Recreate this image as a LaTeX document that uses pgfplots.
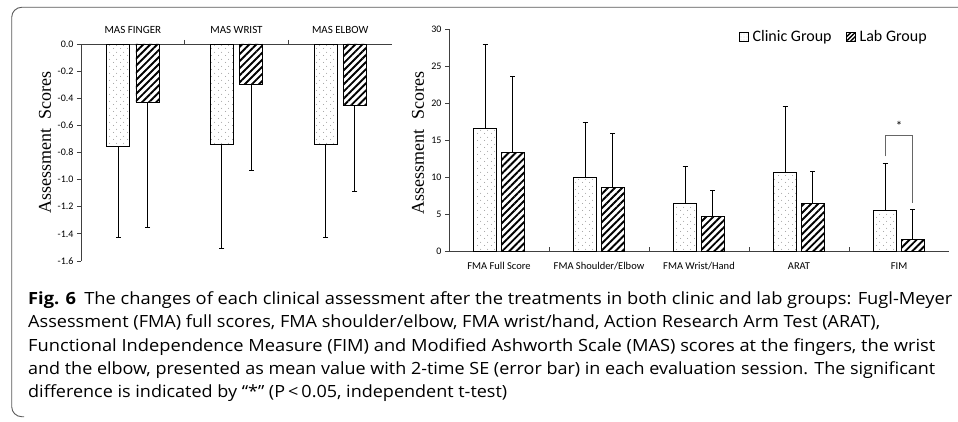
\documentclass[border=0pt]{standalone}
\usepackage{fontspec}
\setmainfont{Carlito}
\newfontfamily\timesfont{Liberation Serif}
\newfontfamily\capfont{Open Sans}
\usepackage{graphicx}
\usepackage{pgfplots}
\usepackage{pgfplotstable}
\pgfplotsset{compat=1.18}
\usetikzlibrary{patterns.meta}
\definecolor{axgray}{HTML}{404040}
\definecolor{dotgray}{HTML}{8a8a8a}

\pgfdeclarepattern{
  name=stagdots,
  type=uncolored,
  bottom left={\pgfpoint{0pt}{0pt}},
  top right={\pgfpoint{7pt}{7pt}},
  tile size={\pgfpoint{7pt}{7pt}},
  code={
    \pgfpathcircle{\pgfpoint{1.75pt}{1.75pt}}{0.55pt}
    \pgfpathcircle{\pgfpoint{5.25pt}{5.25pt}}{0.55pt}
    \pgfusepath{fill}
  }
}

\pgfplotstableread{
x y e
0 -0.753 0.675
1 -0.741 0.763
2 -0.741 0.685
}\masclinic
\pgfplotstableread{
x y e
0 -0.429 0.926
1 -0.299 0.634
2 -0.454 0.636
}\maslab
\pgfplotstableread{
x y e
0 16.6 11.4
1 10.0 7.4
2 6.5 4.9
3 10.6 8.9
4 5.5 6.4
}\fmaclinic
\pgfplotstableread{
x y e
0 13.35 10.25
1 8.6 7.3
2 4.7 3.5
3 6.4 4.4
4 1.5 4.1
}\fmalab

\pgfplotsset{
  clinicbar/.style={ybar, bar width=23pt, bar shift=0pt, draw=black, line width=0.9pt,
    pattern=stagdots, pattern color=dotgray},
  labbar/.style={ybar, bar width=23pt, bar shift=0pt, draw=black, line width=0.9pt,
    pattern={Lines[angle=45, distance=5pt, line width=1.9pt]}, pattern color=black},
  errstyle/.style={error bars/.cd, y explicit, y dir=#1,
    error bar style={black, line width=0.9pt},
    error mark=-, error mark options={rotate=90, black, mark size=2.6pt, line width=0.9pt}, /pgfplots/.cd},
  common/.style={scale only axis, tick align=outside,
    axis line style={axgray, line width=0.8pt},
    major tick length=4pt, minor tick length=4pt,
    every tick/.style={axgray, line width=0.8pt},
    major x tick style=transparent,
    /pgf/number format/assume math mode=true,
    yticklabel style={font=\fontsize{10}{12}\selectfont},
    ylabel style={font=\timesfont\fontsize{18}{20}\selectfont},
    clip=false},
}
\newcommand\capline[2]{\resizebox{#1}{\height}{\capfont\fontsize{16.8}{20}\selectfont #2}}

\begin{document}
\begin{tikzpicture}
\useasboundingbox (0pt,0pt) rectangle (958pt,421pt);
\draw[black!65, line width=0.9pt, rounded corners=10pt] (958pt,413.7pt) -- (11.7pt,413.7pt) -- (11.7pt,4.3pt) -- (24pt,4.3pt);

% Left chart
\begin{axis}[common,
  at={(81pt,160pt)}, anchor=south west,
  width=311pt, height=217pt,
  xmin=-0.5, xmax=2.5, ymin=-1.6, ymax=0,
  axis x line*=top, axis y line*=left,
  xtick={0,1,2}, xticklabels={MAS FINGER, MAS WRIST, MAS ELBOW},
  minor xtick={0.5,1.5},
  xticklabel style={font=\fontsize{11}{13}\selectfont, yshift=3pt},
  ytick={-1.6,-1.4,...,0.01},
  yticklabel style={/pgf/number format/fixed, /pgf/number format/fixed zerofill, /pgf/number format/precision=1},
  ylabel={Assessment\hspace{0.55em}Scores},
  ylabel style={at={(axis description cs:-0.116,0.546)}, anchor=center},
]
\addplot[clinicbar, errstyle=minus] table[x expr=\thisrow{x}-0.141, y=y, y error=e] {\masclinic};
\addplot[labbar, errstyle=minus] table[x expr=\thisrow{x}+0.141, y=y, y error=e] {\maslab};
\end{axis}

% Right chart
\begin{axis}[common,
  at={(449pt,170pt)}, anchor=south west,
  width=500pt, height=221.7pt,
  xmin=-0.5, xmax=4.5, ymin=0, ymax=30,
  axis x line*=bottom, axis y line*=left,
  xtick={0,1,2,3,4},
  xticklabels={FMA Full Score, FMA Shoulder/Elbow, FMA Wrist/Hand, ARAT, FIM},
  minor xtick={0.5,1.5,2.5,3.5},
  minor tick length=-4pt,
  xticklabel style={font=\fontsize{10.5}{12}\selectfont, yshift=-4pt},
  ytick={0,5,...,30},
  ylabel={Assessment\hspace{0.55em}Scores},
  ylabel style={at={(axis description cs:-0.062,0.489)}, anchor=center},
  legend columns=2,
  legend cell align=left,
  legend style={at={(axis description cs:0.58,0.967)}, anchor=west, draw=none, fill=none,
    inner sep=0pt, font=\fontsize{16}{18}\selectfont,
    /tikz/every odd column/.append style={column sep=2pt},
    /tikz/every even column/.append style={column sep=12pt}},
]
\addplot[clinicbar,
  legend image code/.code={\draw[black, line width=0.8pt, pattern={Dots[distance=3pt, radius=0.4pt]}, pattern color=dotgray] (0pt,-4.3pt) rectangle (8.6pt,4.3pt);}, errstyle=plus]
  table[x expr=\thisrow{x}-0.137, y=y, y error=e] {\fmaclinic};
\addlegendentry{Clinic Group}
\addplot[labbar,
  legend image code/.code={\draw[black, line width=0.8pt, pattern={Lines[angle=45, distance=3pt, line width=1.4pt]}, pattern color=black] (0pt,-4.3pt) rectangle (8.6pt,4.3pt);}, errstyle=plus]
  table[x expr=\thisrow{x}+0.137, y=y, y error=e] {\fmalab};
\addlegendentry{Lab Group}
% significance bracket
\addplot[black!60, line width=0.9pt, mark=none, sharp plot, forget plot] coordinates {(3.863,12.8) (3.863,15.66) (4.137,15.66) (4.137,6.5)};
\node[font=\fontsize{13}{14}\selectfont] at (axis cs:4.0,16.9) {*};
\end{axis}

% Caption
\begin{scope}[every node/.style={anchor=base west, inner sep=0pt}]
\node at (28pt,116.3pt) {\capline{924pt}{\textbf{Fig. 6}\hspace{0.45em}The changes of each clinical assessment after the treatments in both clinic and lab groups: Fugl-Meyer}};
\node at (28pt,93.7pt) {\capline{852pt}{Assessment (FMA) full scores, FMA shoulder/elbow, FMA wrist/hand, Action Research Arm Test (ARAT),}};
\node at (28pt,69.3pt) {\capline{907pt}{Functional Independence Measure (FIM) and Modified Ashworth Scale (MAS) scores at the fingers, the wrist}};
\node at (28pt,46.7pt) {\capline{907pt}{and the elbow, presented as mean value with 2-time SE (error bar) in each evaluation session. The significant}};
\node at (28pt,23.3pt) {\capline{479pt}{difference is indicated by “*” (P\,<\,0.05, independent t-test)}};
\end{scope}
\end{tikzpicture}
\end{document}
